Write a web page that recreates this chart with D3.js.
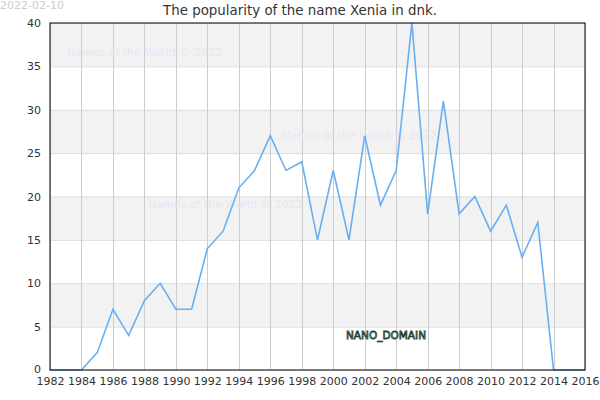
<!DOCTYPE html>
<html><head><meta charset="utf-8">
<script src="https://cdn.jsdelivr.net/npm/d3@7"></script>
<style>body{margin:0;background:#fff;}svg{display:block;font-family:"DejaVu Sans",sans-serif;}</style>
</head><body><svg id="c" width="600" height="400"></svg>
<script>
const years = [1982,1983,1984,1985,1986,1987,1988,1989,1990,1991,1992,1993,1994,1995,1996,1997,1998,1999,2000,2001,2002,2003,2004,2005,2006,2007,2008,2009,2010,2011,2012,2013,2014,2015,2016];
const counts = [0,0,0,2,7,4,8,10,7,7,14,16,21,23,27,23,24,15,23,15,27,19,23,40,18,31,18,20,16,19,13,17,0,0,0];
const xTicks = [1982,1984,1986,1988,1990,1992,1994,1996,1998,2000,2002,2004,2006,2008,2010,2012,2014,2016];
const yTicks = [0,5,10,15,20,25,30,35,40];
const title = "The popularity of the name Xenia in dnk.";
const dateLabel = "2022-02-10";
const watermark = "Names of the World © 2022";

const svg = d3.select("#c");
const L=50,R=585,T=23,B=370;
const x = d3.scaleLinear().domain([1982,2016]).range([L,R]);
const y = d3.scaleLinear().domain([0,40]).range([B,T]);

for(let i=0;i<yTicks.length-1;i++){
  svg.append("rect").attr("x",L).attr("width",R-L)
    .attr("y",y(yTicks[i+1])).attr("height",y(yTicks[i])-y(yTicks[i+1]))
    .attr("fill", i%2===1 ? "#f2f2f2" : "#ffffff");
}
svg.append("g").selectAll("line").data(yTicks).join("line")
  .attr("x1",L).attr("x2",R).attr("y1",d=>y(d)+0.5).attr("y2",d=>y(d)+0.5)
  .attr("stroke","#dddddd").attr("stroke-width",1);
svg.append("g").selectAll("line").data(xTicks).join("line")
  .attr("y1",T).attr("y2",B).attr("x1",d=>Math.round(x(d))+0.5).attr("x2",d=>Math.round(x(d))+0.5)
  .attr("stroke","#cccccc").attr("stroke-width",1);

const wm = [[67,52],[282,135],[148,204]];
svg.append("g").selectAll("text").data(wm).join("text")
  .attr("x",d=>d[0]).attr("y",d=>d[1]+4).text(watermark)
  .attr("font-size",11).attr("fill","#e6e6f5");

svg.append("path").datum(years.map((d,i)=>[d,counts[i]]))
  .attr("d", d3.line().x(d=>x(d[0])).y(d=>y(d[1])))
  .attr("fill","none").attr("stroke","#6aaef2").attr("stroke-width",1.6);

svg.append("rect").attr("x",L).attr("y",T).attr("width",R-L).attr("height",B-T)
  .attr("fill","none").attr("stroke","#000").attr("stroke-width",1);

const xa = svg.append("g").attr("transform",`translate(0,${B})`)
  .call(d3.axisBottom(x).tickValues(xTicks).tickFormat(d3.format("d")).tickSize(0).tickPadding(7));
xa.select(".domain").remove();
xa.selectAll("text").attr("font-size",11).attr("fill","#333").attr("font-family","DejaVu Sans");
const ya = svg.append("g").attr("transform",`translate(${L},0)`)
  .call(d3.axisLeft(y).tickValues(yTicks).tickSize(0).tickPadding(9));
ya.select(".domain").remove();
ya.selectAll("text").attr("font-size",11).attr("fill","#333").attr("font-family","DejaVu Sans");
ya.selectAll("text").filter(d=>d===0).attr("dy","0.2em");

svg.append("text").attr("x",300).attr("y",15).attr("text-anchor","middle")
  .attr("font-size",13.4).attr("fill","#333").text(title);
svg.append("text").attr("x",0).attr("y",9).attr("font-size",11).attr("fill","#cccccc").text(dateLabel);

svg.append("text").attr("x",346).attr("y",339).attr("font-size",11)
  .attr("textLength",80).attr("lengthAdjust","spacingAndGlyphs")
  .attr("fill","#9fd8b8").attr("stroke","#1e3d2e").attr("stroke-width",0.8)
  .text("NANO_DOMAIN");
</script></body></html>
